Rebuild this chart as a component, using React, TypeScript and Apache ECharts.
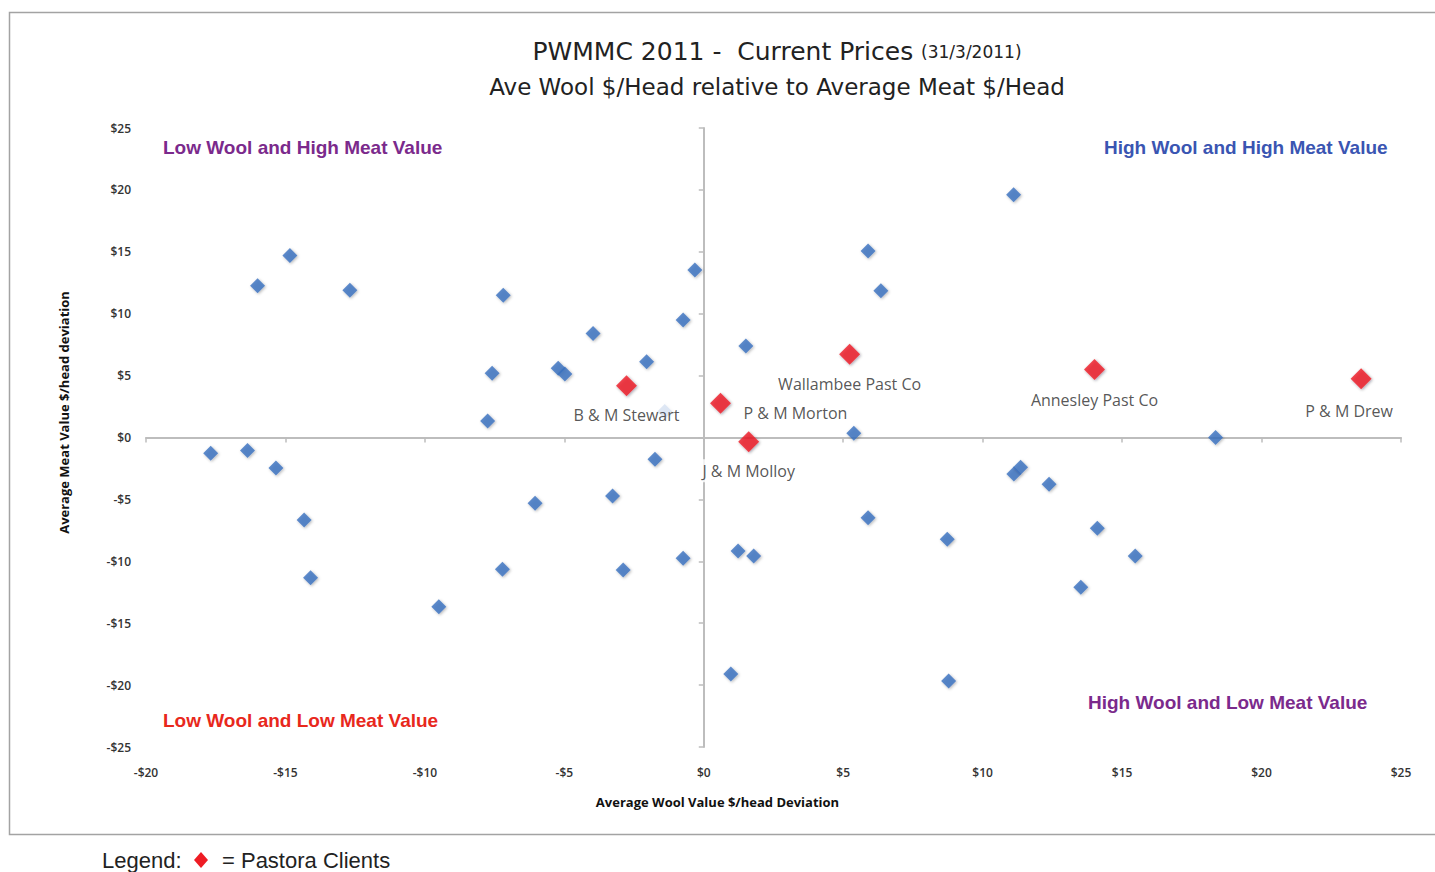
import React, { useEffect, useRef } from "react";
import * as echarts from "echarts";

// Other (non-client) farms: wool $/head deviation (x) and meat $/head deviation (y)
const otherWool = [
  -17.68, -16.36, -15.34, -14.33, -14.1, -16.0, -14.84, -12.69, -9.5, -7.75,
  -7.59, -7.19, -7.22, -6.05, -5.22, -4.98, -3.97, -3.27, -2.89, -2.05,
  -1.75, -1.4, -0.74, -0.74, -0.32, 0.97, 1.23, 1.51, 1.79, 5.38,
  5.89, 5.89, 6.35, 8.73, 8.78, 11.11, 11.12, 11.36, 12.38, 13.52,
  14.11, 15.47, 18.35,
];
const otherMeat = [
  -1.28, -1.06, -2.46, -6.66, -11.32, 12.26, 14.7, 11.9, -13.67, 1.33,
  5.18, 11.5, -10.65, -5.32, 5.59, 5.13, 8.4, -4.73, -10.7, 6.12,
  -1.76, 2.1, 9.49, -9.76, 13.53, -19.1, -9.17, 7.39, -9.57, 0.34,
  15.06, -6.48, 11.86, -8.22, -19.67, 19.6, -2.95, -2.4, -3.78, -12.1,
  -7.34, -9.57, 0.0,
];

// Pastora clients
const clientNames = [
  "B & M Stewart",
  "P & M Morton",
  "J & M Molloy",
  "Wallambee Past Co",
  "Annesley Past Co",
  "P & M Drew",
];
const clientWool = [-2.77, 0.6, 1.61, 5.23, 14.01, 23.57];
const clientMeat = [4.18, 2.76, -0.34, 6.72, 5.5, 4.75];

// Axis ranges / ticks
const xMin = -20;
const xMax = 25;
const yMin = -25;
const yMax = 25;
const tickStep = 5;

// Label offsets (style, relative to the marker centre)
const clientLabelOffsets: Record<string, [number, number]> = {
  "B & M Stewart": [0, 29],
  "P & M Morton": [75, 10],
  "J & M Molloy": [0, 29],
  "Wallambee Past Co": [0, 30],
  "Annesley Past Co": [0, 31],
  "P & M Drew": [-12, 32],
};

const money = (v: number) => (v < 0 ? "-$" : "$") + Math.abs(v);

const TICK_FONT = "'Open Sans', 'DejaVu Sans', sans-serif";
const TITLE_FONT = "'DejaVu Sans', sans-serif";
const LINE = { color: "#bdbdbd", width: 2 };

export default function App() {
  const ref = useRef<HTMLDivElement>(null);

  useEffect(() => {
    if (!ref.current) return;
    const chart = echarts.init(ref.current, undefined, { renderer: "svg" });

    const otherData = otherWool.map((x, i) => [x, otherMeat[i]]);
    const clientData = clientNames.map((name, i) => ({
      name,
      value: [clientWool[i], clientMeat[i]],
      label: { offset: clientLabelOffsets[name] },
    }));

    const labelAxisCommon = {
      type: "value",
      interval: tickStep,
      axisLine: { show: false, onZero: false },
      axisTick: { show: false },
      splitLine: { show: false },
    };
    const lineAxisCommon = {
      type: "value",
      interval: tickStep,
      axisLine: { show: true, onZero: true, lineStyle: LINE },
      axisTick: { show: true, length: 5, lineStyle: { color: "#bdbdbd", width: 1.5 } },
      axisLabel: { show: false },
      splitLine: { show: false },
    };

    const option: any = {
      animation: false,
      backgroundColor: "#ffffff",
      title: [
        {
          text: "{a|PWMMC 2011 -  Current Prices }{b|(31/3/2011)}",
          left: 772,
          top: 34,
          textAlign: "center",
          textStyle: {
            fontWeight: "normal",
            rich: {
              a: { fontFamily: TITLE_FONT, fontSize: 25, fontWeight: "normal", color: "#222" },
              b: { fontFamily: TITLE_FONT, fontSize: 17, fontWeight: "normal", color: "#222" },
            },
          },
        },
        {
          text: "Ave Wool $/Head relative to Average Meat $/Head",
          left: 772,
          top: 70,
          textAlign: "center",
          textStyle: {
            fontFamily: TITLE_FONT,
            fontSize: 23,
            fontWeight: "normal",
            color: "#222",
          },
        },
      ],
      grid: { left: 146, right: 34, top: 128, bottom: 125 },
      xAxis: [
        {
          ...labelAxisCommon,
          min: xMin,
          max: xMax,
          position: "bottom",
          axisLabel: {
            margin: 19,
            formatter: money,
            fontFamily: TICK_FONT,
            fontSize: 12,
            fontWeight: 600,
            color: "#333",
          },
          name: "Average Wool Value $/head Deviation",
          nameLocation: "middle",
          nameGap: 48,
          nameTextStyle: {
            fontFamily: TICK_FONT,
            fontSize: 13,
            fontWeight: "bold",
            color: "#111",
            padding: [0, 112, 0, 0],
          },
        },
        {
          ...lineAxisCommon,
          min: xMin,
          max: xMax,
          position: "bottom",
        },
      ],
      yAxis: [
        {
          ...labelAxisCommon,
          min: yMin,
          max: yMax,
          position: "left",
          axisLabel: {
            margin: 15,
            formatter: money,
            fontFamily: TICK_FONT,
            fontSize: 12,
            fontWeight: 600,
            color: "#333",
          },
          name: "Average Meat Value $/head deviation",
          nameLocation: "middle",
          nameGap: 76,
          nameTextStyle: {
            fontFamily: TICK_FONT,
            fontSize: 13,
            fontWeight: "bold",
            color: "#111",
            padding: [0, 0, 0, 50],
          },
        },
        {
          ...lineAxisCommon,
          min: yMin,
          max: yMax,
          position: "left",
        },
      ],
      series: [
        {
          name: "Other farms",
          type: "scatter",
          xAxisIndex: 0,
          yAxisIndex: 0,
          symbol: "diamond",
          symbolSize: 15,
          data: otherData,
          itemStyle: {
            color: "#3a70bf",
            shadowBlur: 3,
            shadowColor: "rgba(0,0,0,0.35)",
            shadowOffsetX: 1,
            shadowOffsetY: 1,
          },
          z: 3,
        },
        {
          name: "Pastora Clients",
          type: "scatter",
          xAxisIndex: 0,
          yAxisIndex: 0,
          symbol: "diamond",
          symbolSize: 21,
          data: clientData,
          itemStyle: {
            color: "#ee1c24",
            shadowBlur: 3,
            shadowColor: "rgba(0,0,40,0.45)",
            shadowOffsetX: 1,
            shadowOffsetY: 1,
          },
          label: {
            show: true,
            position: "inside",
            formatter: (p: any) => p.name,
            fontFamily: TICK_FONT,
            fontSize: 16,
            color: "#2b2b2b",
            backgroundColor: "#ffffff",
            padding: [5, 3, 2, 3],
          },
          z: 4,
        },
      ],
      graphic: [
        {
          type: "rect",
          shape: { x: 9.5, y: 12.5, width: 1440, height: 822 },
          style: { fill: "none", stroke: "#a3a3a3", lineWidth: 1.5 },
          silent: true,
        },
        {
          type: "text",
          x: 163,
          y: 147,
          style: {
            text: "Low Wool and High Meat Value",
            fill: "#7b2a8c",
            font: "bold 19px 'Liberation Sans', Arial, sans-serif",
            textVerticalAlign: "middle",
          },
        },
        {
          type: "text",
          x: 1104,
          y: 147,
          style: {
            text: "High Wool and High Meat Value",
            fill: "#3a55b2",
            font: "bold 19px 'Liberation Sans', Arial, sans-serif",
            textVerticalAlign: "middle",
          },
        },
        {
          type: "text",
          x: 163,
          y: 720,
          style: {
            text: "Low Wool and Low Meat Value",
            fill: "#e8281c",
            font: "bold 19px 'Liberation Sans', Arial, sans-serif",
            textVerticalAlign: "middle",
          },
        },
        {
          type: "text",
          x: 1088,
          y: 702,
          style: {
            text: "High Wool and Low Meat Value",
            fill: "#7b2a8c",
            font: "bold 19px 'Liberation Sans', Arial, sans-serif",
            textVerticalAlign: "middle",
          },
        },
        {
          type: "text",
          x: 102,
          y: 860,
          style: {
            text: "Legend:",
            fill: "#222",
            font: "22px 'Liberation Sans', Arial, sans-serif",
            textVerticalAlign: "middle",
          },
        },
        {
          type: "polygon",
          shape: { points: [[201, 852], [208, 860], [201, 868], [194, 860]] },
          style: { fill: "#ee1c24" },
        },
        {
          type: "text",
          x: 222,
          y: 860,
          style: {
            text: "= Pastora Clients",
            fill: "#222",
            font: "22px 'Liberation Sans', Arial, sans-serif",
            textVerticalAlign: "middle",
          },
        },
      ],
    };

    chart.setOption(option);
    return () => chart.dispose();
  }, []);

  return (
    <div
      ref={ref}
      style={{ position: "absolute", left: 0, top: 0, width: 1435, height: 872 }}
    />
  );
}
